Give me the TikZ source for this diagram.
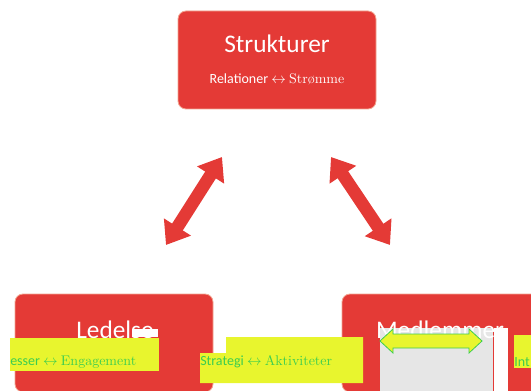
\documentclass[tikz,border=0pt]{standalone}
\usepackage{fontspec}
\usepackage{amsmath}
\usetikzlibrary{arrows.meta}
\newfontfamily\calib{Carlito}
\definecolor{boxred}{RGB}{228,58,54}
\definecolor{boxedge}{RGB}{242,165,145}
\definecolor{glyellow}{RGB}{232,245,46}
\definecolor{glgreen}{RGB}{60,205,80}
\definecolor{glgray}{RGB}{230,230,230}

\begin{document}
\begin{tikzpicture}
[x=0.75pt,y=-0.75pt]
\tikzset{box/.style={draw=boxedge,fill=boxred,rounded corners=6pt,line width=0.6pt,minimum width=148.5pt,minimum height=73.5pt,inner sep=0pt}}
\tikzset{title/.style={text=white,font=\calib\fontsize{19}{22}\selectfont,anchor=base}}
\tikzset{sub/.style={text=white,font=\calib\fontsize{10.5}{12}\selectfont,anchor=base}}
\tikzset{glitch/.style={text=glgreen,font=\calib\fontsize{10.5}{12}\selectfont,anchor=base}}
\tikzset{bigarrow/.style={draw=boxred,line width=9.5pt,{Triangle[width=23pt,length=16pt]}-{Triangle[width=23pt,length=16pt]}}}
\useasboundingbox (0,0) rectangle (531,391);
\clip (0,0) rectangle (531,391);

\node [box] (strukturer) at (277,60) {};
\node [box] (ledelse) at (114,343) {};
\node [box] (medlemmer) at (441,343) {};

\node [title] (t1) at (277,53) {Strukturer};
\node [sub] (s1) at (277,84) {Relationer $\leftrightarrow$ {\rmfamily Strømme}};
\node [title] (t2) at (115,338) {Ledelse};

% broken lower strip
\fill [glyellow] (10,338) rectangle (159,371);
\fill [white] (132,329) rectangle (158,337);
\fill [glyellow] (226,337) -- (363,337) -- (363,383) -- (200,383) -- (200,353) -- (226,353) -- cycle;
\fill [glgray] (380,328) rectangle (493,391);
\fill [white] (494,328) rectangle (508,391);
\fill [glyellow] (514,335) rectangle (531,368);
\node [title] (t3) at (440,338) {Medlemmer};

\node [glitch,anchor=base west,inner sep=0pt] (s2) at (10,365) {esser $\leftrightarrow$ {\rmfamily Engagement}};
\node [glitch,anchor=base west,inner sep=0pt] (s3) at (200,365) {Strategi $\leftrightarrow$ {\rmfamily Aktiviteter}};
\node [glitch,anchor=base west,inner sep=0pt] (s4) at (514,366) {Int};

\draw [glgreen,fill=glyellow,line width=0.6pt] (380,341) -- (393,329) -- (393,334) -- (469,334) -- (469,329) -- (482,341) -- (469,353) -- (469,348) -- (393,348) -- (393,353) -- cycle;

\coordinate (a1) at (222,157);
\coordinate (a2) at (166,245);
\coordinate (b1) at (331,157);
\coordinate (b2) at (390,245);
\foreach \from/\to in {a1/a2,b1/b2}
	\draw [bigarrow] (\from) -- (\to);

\end{tikzpicture}
\end{document}
